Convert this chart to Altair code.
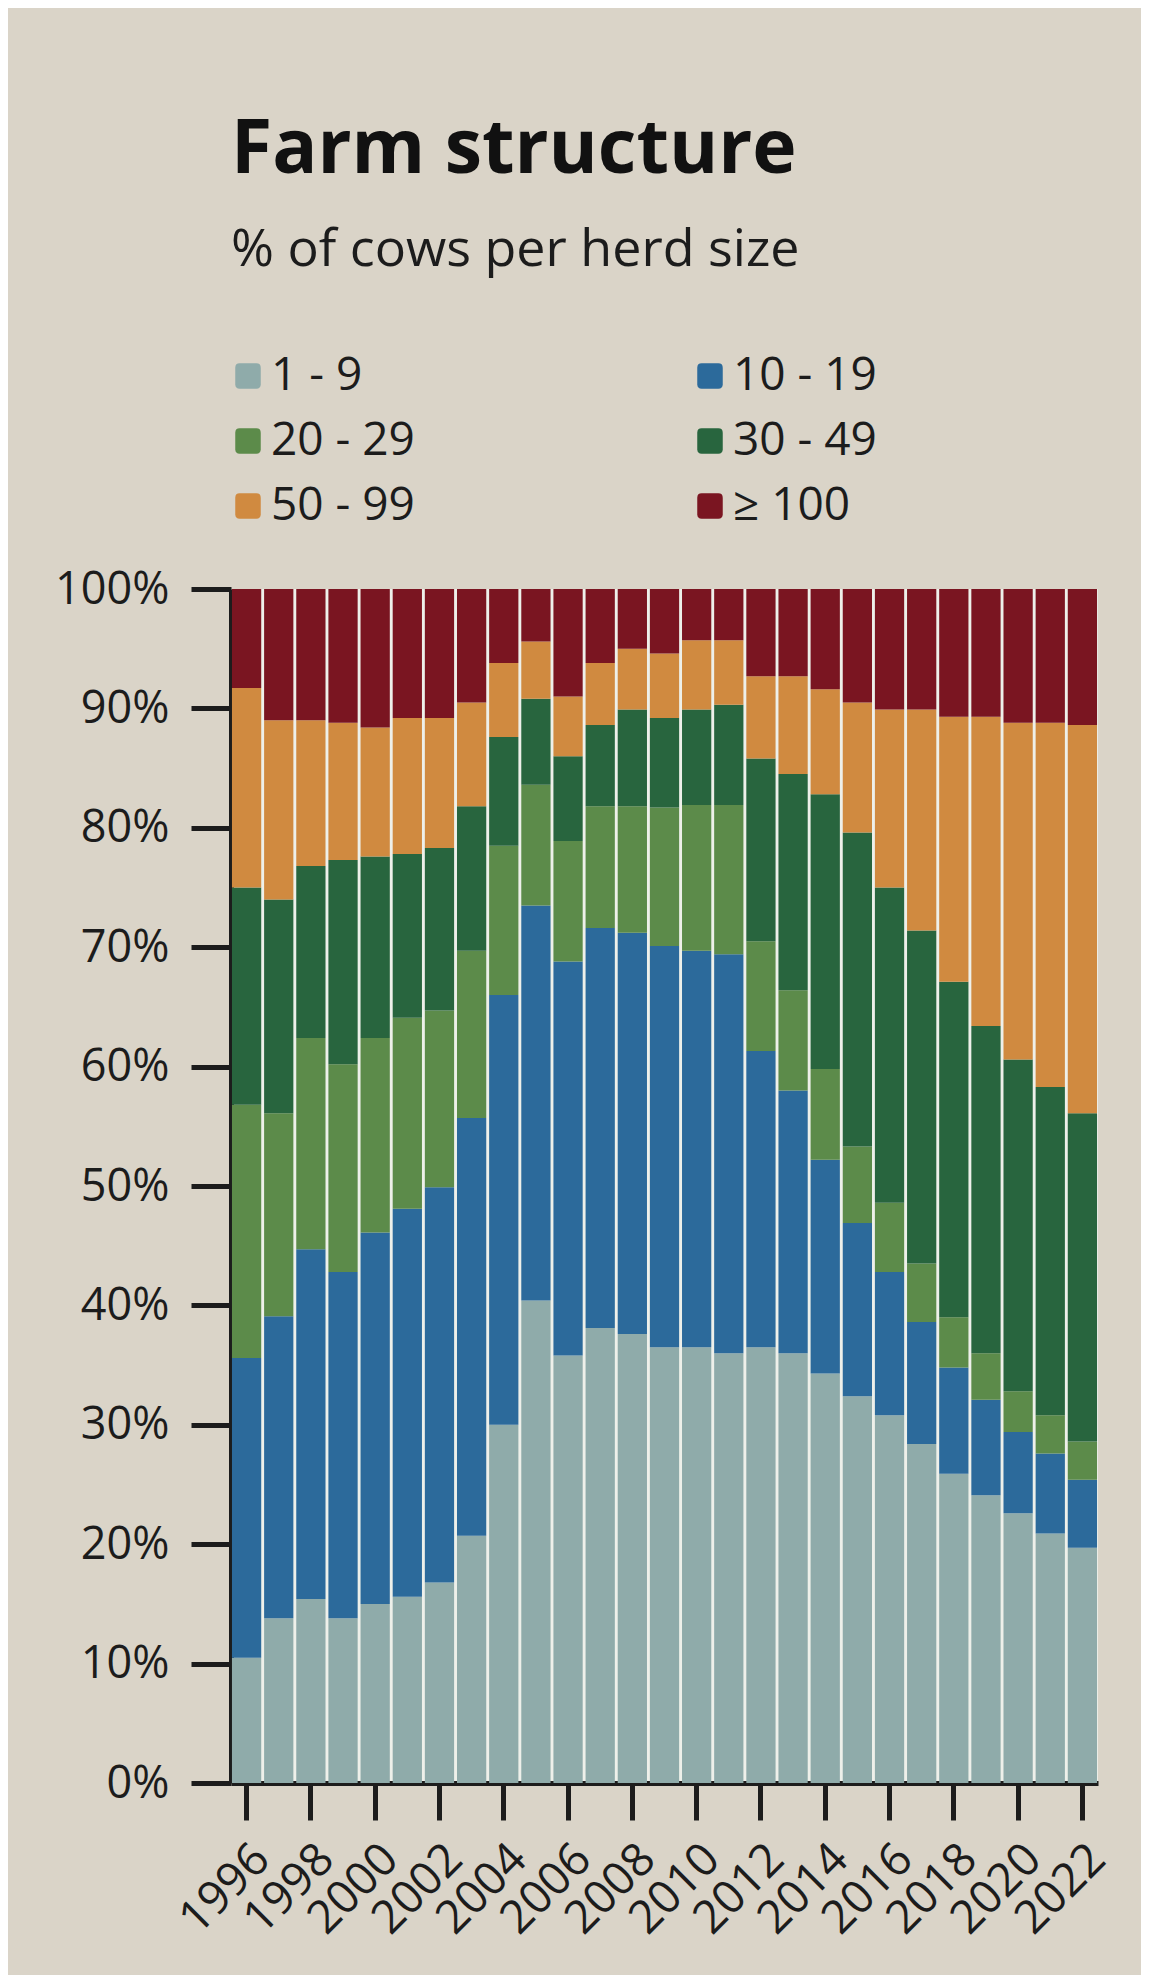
import altair as alt
import pandas as pd

years = list(range(1996, 2023))
categories = ["1 - 9", "10 - 19", "20 - 29", "30 - 49", "50 - 99", "≥ 100"]
colors = ["#8fabaa", "#2c6a9b", "#5c8b4a", "#28653e", "#d08a40", "#7a1521"]

# share of cows (%) per herd-size class, 1996..2022
herd_1_9 = [10.5, 13.8, 15.4, 13.8, 15.0, 15.6, 16.8, 20.7, 30.0, 40.4, 35.8, 38.1, 37.6, 36.5,
            36.5, 36.0, 36.5, 36.0, 34.3, 32.4, 30.8, 28.4, 25.9, 24.1, 22.6, 20.9, 19.7]
herd_10_19 = [25.1, 25.3, 29.3, 29.0, 31.1, 32.5, 33.1, 35.0, 36.0, 33.1, 33.0, 33.5, 33.6, 33.6,
              33.2, 33.4, 24.8, 22.0, 17.9, 14.5, 12.0, 10.2, 8.9, 8.0, 6.8, 6.7, 5.7]
herd_20_29 = [21.2, 17.0, 17.7, 17.4, 16.3, 16.0, 14.8, 14.0, 12.5, 10.1, 10.1, 10.2, 10.6, 11.6,
              12.2, 12.5, 9.2, 8.4, 7.6, 6.4, 5.8, 4.9, 4.2, 3.9, 3.4, 3.2, 3.2]
herd_30_49 = [18.2, 17.9, 14.4, 17.1, 15.2, 13.7, 13.6, 12.1, 9.1, 7.2, 7.1, 6.8, 8.1, 7.5,
              8.0, 8.4, 15.3, 18.1, 23.0, 26.3, 26.4, 27.9, 28.1, 27.4, 27.8, 27.5, 27.5]
herd_50_99 = [16.7, 15.0, 12.2, 11.5, 10.8, 11.4, 10.9, 8.7, 6.2, 4.8, 5.0, 5.2, 5.1, 5.4,
              5.8, 5.4, 6.9, 8.2, 8.8, 10.9, 14.9, 18.5, 22.2, 25.9, 28.2, 30.5, 32.5]
herd_100 = [8.3, 11.0, 11.0, 11.2, 11.6, 10.8, 10.8, 9.5, 6.2, 4.4, 9.0, 6.2, 5.0, 5.4,
            4.3, 4.3, 7.3, 7.3, 8.4, 9.5, 10.1, 10.1, 10.7, 10.7, 11.2, 11.2, 11.4]

series = [herd_1_9, herd_10_19, herd_20_29, herd_30_49, herd_50_99, herd_100]
rows = []
for i, yr in enumerate(years):
    for k, (cat, vals) in enumerate(zip(categories, series)):
        rows.append({"year": yr, "size": cat, "share": vals[i], "rank": k})
df = pd.DataFrame(rows)

# legend fills column by column: reorder so rows read 1-9 | 10-19, 20-29 | 30-49, 50-99 | >=100
legend_order = [0, 2, 4, 1, 3, 5]
dom = [categories[i] for i in legend_order]
rng = [colors[i] for i in legend_order]

FONT = "Open Sans"
INK = "#1c1c1c"
rounded_sq = "M-0.65,-1 H0.65 Q1,-1 1,-0.65 V0.65 Q1,1 0.65,1 H-0.65 Q-1,1 -1,0.65 V-0.65 Q-1,-1 -0.65,-1 Z"

chart = alt.Chart(df).mark_bar().encode(
    x=alt.X("year:O",
            scale=alt.Scale(paddingInner=0.09, paddingOuter=0.03),
            axis=alt.Axis(values=list(range(1996, 2023, 2)), title=None,
                          labelAngle=-45, labelAlign="right", labelBaseline="top",
                          labelFontSize=46, labelFont=FONT, labelColor=INK, labelPadding=16,
                          tickSize=37, tickWidth=5, tickColor=INK,
                          domainWidth=5, domainColor=INK)),
    y=alt.Y("share:Q", stack="normalize",
            scale=alt.Scale(domain=[0, 1], nice=False),
            axis=alt.Axis(values=[i / 10 for i in range(11)], format=".0%", title=None,
                          labelFontSize=45, labelFont=FONT, labelColor=INK, labelPadding=22,
                          tickSize=40, tickWidth=5, tickColor=INK,
                          domainWidth=5, domainColor=INK, grid=False)),
    color=alt.Color("size:N",
                    scale=alt.Scale(domain=dom, range=rng),
                    legend=alt.Legend(title=None, orient="none", legendX=-6, legendY=-236,
                                      columns=2, columnPadding=272, rowPadding=19,
                                      symbolType=rounded_sq, symbolSize=650,
                                      symbolStrokeWidth=0, symbolOpacity=1,
                                      labelFontSize=46, labelFont=FONT, labelColor=INK,
                                      labelOffset=0)),
    order=alt.Order("rank:Q", sort="ascending"),
).properties(
    width=867,
    height=1194,
    title=alt.TitleParams("Farm structure", subtitle="% of cows per herd size",
                          anchor="start", frame="group", orient="top",
                          fontSize=75, font=FONT, fontWeight="bold", color="#111111",
                          subtitleFontSize=52, subtitleFont=FONT, subtitleColor=INK,
                          subtitlePadding=36, offset=76),
    padding={"left": 223, "top": 581, "right": 43, "bottom": 192},
    autosize=alt.AutoSizeParams(type="none"),
    background="#dad4c8",
).configure_view(
    fill="#eef0ea", stroke=None
)

chart.save("out.html", embed_options={"renderer": "svg", "actions": False})
